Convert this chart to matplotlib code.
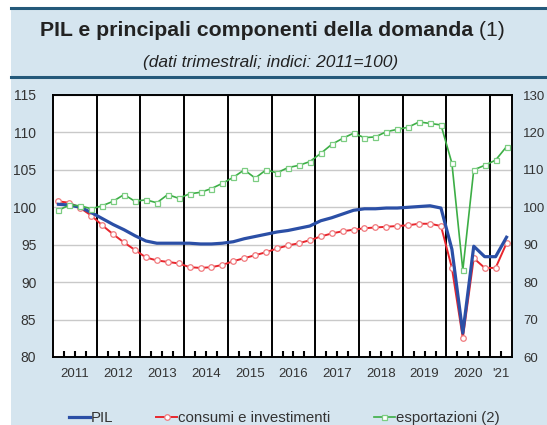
import matplotlib
matplotlib.use("Agg")
import matplotlib.pyplot as plt
from matplotlib.patches import Rectangle
from matplotlib.lines import Line2D
import numpy as np

plt.rcParams['font.family'] = ['Liberation Sans', 'DejaVu Sans']

# ---------------- data (quarterly, 2011Q1 - 2021Q2) ----------------
years = [2011, 2012, 2013, 2014, 2015, 2016, 2017, 2018, 2019, 2020, 2021]
year_labels = ['2011', '2012', '2013', '2014', '2015', '2016', '2017', '2018', '2019', '2020', "'21"]

pil = [100.4, 100.3, 100.0, 99.3,
       98.5, 97.7, 97.0, 96.2,
       95.5, 95.2, 95.2, 95.2,
       95.2, 95.1, 95.1, 95.2,
       95.4, 95.8, 96.1, 96.4,
       96.7, 96.9, 97.2, 97.5,
       98.2, 98.6, 99.1, 99.6,
       99.8, 99.8, 99.9, 99.9,
       100.0, 100.1, 100.2, 99.9,
       94.4, 83.2, 94.8, 93.4,
       93.4, 96.0]

consumi = [100.8, 100.6, 99.9, 98.9,
           97.6, 96.4, 95.3, 94.3,
           93.3, 92.9, 92.7, 92.5,
           92.0, 91.9, 92.0, 92.3,
           92.8, 93.2, 93.6, 94.0,
           94.5, 94.9, 95.2, 95.6,
           96.1, 96.5, 96.8, 97.0,
           97.2, 97.3, 97.4, 97.5,
           97.6, 97.8, 97.8, 97.5,
           91.9, 82.5, 93.2, 91.9,
           91.9, 95.2]

esportazioni = [99.2, 100.6, 100.4, 99.6,
                100.4, 101.6, 103.4, 101.6,
                102.0, 101.2, 103.4, 102.4,
                103.6, 104.0, 105.0, 106.4,
                108.0, 110.0, 107.8, 110.0,
                109.2, 110.6, 111.2, 112.2,
                114.4, 116.8, 118.4, 119.8,
                118.6, 118.8, 120.2, 120.8,
                121.4, 122.8, 122.4, 122.0,
                111.8, 83.2, 110.0, 111.2,
                112.6, 116.2]

left_ticks = [80, 85, 90, 95, 100, 105, 110, 115]
right_ticks = [60, 70, 80, 90, 100, 110, 120, 130]

# quarter positions
n = len(pil)
xq = np.array([years[0] + (i + 0.5) / 4 for i in range(n)])

# ---------------- figure ----------------
W, H = 547, 425
BG = '#d5e5ef'
EDGE = '#24597a'
fig = plt.figure(figsize=(W / 100, H / 100), dpi=100)
fig.patch.set_facecolor('white')

def fx(x):
    return x / W

def fy(y):
    return 1 - y / H

fig.patches.append(Rectangle((fx(11), 0), 1 - fx(11), fy(8), transform=fig.transFigure,
                             facecolor=BG, edgecolor='none', zorder=-10))
fig.add_artist(Line2D([fx(11), 1], [fy(8), fy(8)], color=EDGE, lw=2.2, zorder=-5))
fig.add_artist(Line2D([fx(11), 1], [fy(77), fy(77)], color=EDGE, lw=2.2, zorder=-5))

title = fig.text(fx(505), fy(31), ' (1)', ha='right', va='center', fontsize=15.3,
                 color='#222222')
fig.canvas.draw()
bb = title.get_window_extent()
fig.text(bb.x0 / W, fy(31), 'PIL e principali componenti della domanda', ha='right', va='center',
         fontsize=15.3, fontweight='bold', color='#222222')
fig.text(fx(271), fy(62), '(dati trimestrali; indici: 2011=100)', ha='center', va='center',
         fontsize=12.5, style='italic', color='#222222')

ax = fig.add_axes([fx(53), fy(357), (512 - 53) / W, (357 - 95) / H])
ax.set_zorder(1)
ax.set_facecolor('white')
ax.set_xlim(2011, 2021.5)
ax.set_ylim(80, 115)
ax.set_yticks(left_ticks)
ax.yaxis.grid(True, color='#c9c9c9', lw=1.0)
ax.set_axisbelow(True)
for y in years[1:]:
    ax.axvline(y, color='black', lw=1.4, zorder=1)

quarter_marks = [y + f for y in years for f in (0.25, 0.5, 0.75) if y + f < 2021.5]
ax.xaxis.remove_overlapping_locs = False
ax.set_xticks([y + 0.5 for y in years[:-1]] + [2021.25])
ax.set_xticklabels(year_labels)
ax.set_xticks(quarter_marks, minor=True)
ax.tick_params(axis='x', which='major', length=0, pad=8, labelsize=9.5, labelcolor='#333333')
ax.tick_params(axis='x', which='minor', direction='in', length=4.5, width=1.5, color='black',
               bottom=True)
ax.tick_params(axis='y', length=0, pad=12, labelsize=10, labelcolor='#333333')
for s in ax.spines.values():
    s.set_color('black')
    s.set_linewidth(1.4)

ax.plot(xq, pil, color='#2b4fa6', lw=2.3, zorder=5, label='PIL')
ax.plot(xq, consumi, color='#e8262d', lw=1.4, marker='o', ms=4, mfc='white',
        mec='#f07a7e', mew=0.9, zorder=4, label='consumi e investimenti')

ax2 = ax.twinx()
ax2.set_ylim(60, 130)
ax2.set_yticks(right_ticks)
ax2.tick_params(axis='y', length=0, pad=8, labelsize=9.5, labelcolor='#333333')
for s in ax2.spines.values():
    s.set_visible(False)
ax2.plot(xq, esportazioni, color='#3cae45', lw=1.2, marker='s', ms=3.6, mfc='white',
         mec='#7ccd82', mew=0.9, zorder=3, label='esportazioni (2)')

h1, l1 = ax.get_legend_handles_labels()
h2, l2 = ax2.get_legend_handles_labels()
fig.legend(h1 + h2, l1 + l2, loc='center', bbox_to_anchor=(fx(284), fy(418)), ncol=3,
           frameon=False, fontsize=10.8, handlelength=1.4, handletextpad=0.05,
           columnspacing=2.9, borderpad=0, labelcolor='#333333')

fig.savefig('out.png', dpi=100, facecolor=fig.get_facecolor())
